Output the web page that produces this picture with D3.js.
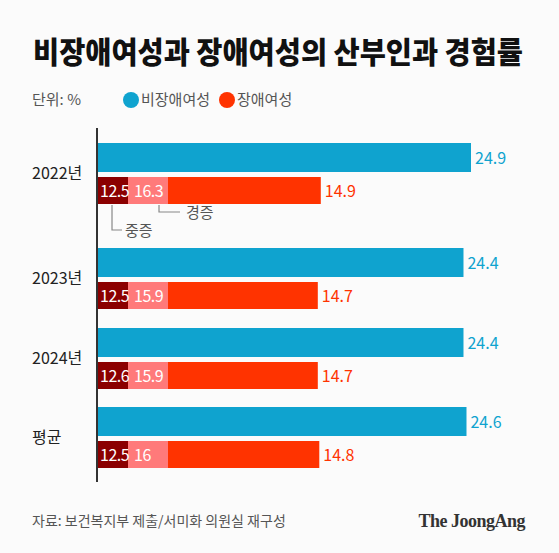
<!DOCTYPE html><html><head><meta charset="utf-8">
<script src="https://cdn.jsdelivr.net/npm/d3@7"></script>
<style>body{margin:0;background:#fbfbfb}text{font-family:"Noto Sans CJK KR",sans-serif}</style></head><body>
<script>
const categories=["2022년","2023년","2024년","평균"];
const nonDisabled=[24.9,24.4,24.4,24.6];
const disabled=[14.9,14.7,14.7,14.8];
const severe=[12.5,12.5,12.6,12.5];
const mild=[16.3,15.9,15.9,16];
const groupY=[143,248,328,407];
const W=559,H=553;
const svg=d3.select("body").append("svg").attr("width",W).attr("height",H);
svg.append("rect").attr("width",W).attr("height",H).attr("fill","#fbfbfb");
svg.append("text").attr("x",33).attr("y",63).attr("font-size",30).attr("font-weight",900).attr("textLength",490).attr("lengthAdjust","spacingAndGlyphs").attr("fill","#111").text("비장애여성과 장애여성의 산부인과 경험률");
svg.append("text").attr("x",32).attr("y",105).attr("font-size",15).attr("fill","#555").text("단위: %");
svg.append("circle").attr("cx",131).attr("cy",100).attr("r",8).attr("fill","#0fa3cf");
svg.append("text").attr("x",141).attr("y",105).attr("font-size",15).attr("fill","#555").text("비장애여성");
svg.append("circle").attr("cx",227).attr("cy",100).attr("r",8).attr("fill","#ff3300");
svg.append("text").attr("x",237).attr("y",105).attr("font-size",15).attr("fill","#555").text("장애여성");
const x=d3.scaleLinear().domain([0,24.9]).range([97,471]);
const segW=[31,40];
categories.forEach((c,i)=>{
  const y0=groupY[i];
  svg.append("rect").attr("x",x(0)).attr("y",y0).attr("width",x(nonDisabled[i])-x(0)).attr("height",29).attr("fill","#0fa3cf");
  svg.append("text").attr("x",x(nonDisabled[i])+4).attr("y",y0+21).attr("font-size",16).attr("fill","#0fa3cf").text(nonDisabled[i]);
  const ry=y0+34;
  svg.append("rect").attr("x",x(0)).attr("y",ry).attr("width",x(disabled[i])-x(0)).attr("height",27).attr("fill","#ff3300");
  svg.append("rect").attr("x",x(0)).attr("y",ry).attr("width",segW[0]).attr("height",27).attr("fill","#8b0000");
  svg.append("rect").attr("x",x(0)+segW[0]).attr("y",ry).attr("width",segW[1]).attr("height",27).attr("fill","#ff7a7a");
  svg.append("text").attr("x",x(0)+3).attr("y",ry+20).attr("font-size",16).attr("letter-spacing",-0.5).attr("fill","#fff").text(severe[i]);
  svg.append("text").attr("x",x(0)+segW[0]+6).attr("y",ry+20).attr("font-size",16).attr("letter-spacing",-0.5).attr("fill","#fff").text(mild[i]);
  svg.append("text").attr("x",x(disabled[i])+4).attr("y",ry+20).attr("font-size",16).attr("fill","#ff3300").text(disabled[i]);
  svg.append("text").attr("x",32).attr("y",y0+36).attr("font-size",16).attr("fill","#222").text(c);
});
const g="#888";
svg.append("path").attr("d","M112,205V230H122").attr("fill","none").attr("stroke",g).attr("stroke-width",1.2);
svg.append("text").attr("x",125).attr("y",236).attr("font-size",15).attr("fill","#555").text("중증");
svg.append("path").attr("d","M159,205V212H180").attr("fill","none").attr("stroke",g).attr("stroke-width",1.2);
svg.append("text").attr("x",186).attr("y",218).attr("font-size",15).attr("fill","#555").text("경증");
svg.append("line").attr("x1",97).attr("x2",97).attr("y1",128).attr("y2",482).attr("stroke","#333").attr("stroke-width",2);
svg.append("text").attr("x",32).attr("y",526).attr("font-size",14).attr("fill","#555").text("자료: 보건복지부 제출/서미화 의원실 재구성");
svg.append("text").attr("x",525).attr("y",527).attr("text-anchor","end").attr("font-size",18).attr("font-weight",700).style("font-family","'Liberation Serif',serif").attr("fill","#333").attr("letter-spacing",-0.5).text("The JoongAng");
</script></body></html>
